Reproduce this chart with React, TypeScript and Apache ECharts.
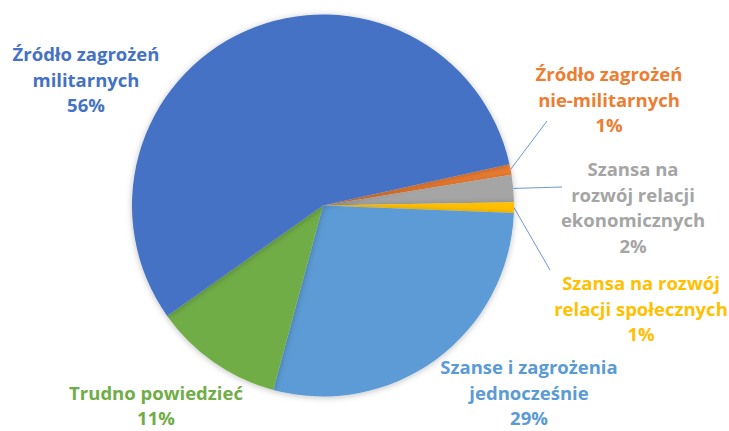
import React, { useEffect, useRef } from "react";
import * as echarts from "echarts";

const names = [
  "Źródło zagrożeń\nnie-militarnych",
  "Szansa na\nrozwój relacji\nekonomicznych",
  "Szansa na rozwój\nrelacji społecznych",
  "Szanse i zagrożenia\njednocześnie",
  "Trudno powiedzieć",
  "Źródło zagrożeń\nmilitarnych",
];
const values = [0.9, 2.3, 0.9, 28.6, 11.0, 56.4];
const colors = ["#ED7D31", "#A5A5A5", "#FFC000", "#5B9BD5", "#70AD47", "#4472C4"];
const showLine = [true, true, true, false, false, false];
// label centres (px) and label-line end points
const labelPos: [number, number][] = [
  [609, 99],
  [633, 207],
  [641, 308],
  [529, 392],
  [156, 405],
  [86, 79],
];
const lineEnds: [number, number][] = [
  [547, 121],
  [562, 187],
  [550, 270],
  [0, 0],
  [0, 0],
  [0, 0],
];

export default function App() {
  const ref = useRef<HTMLDivElement>(null);
  useEffect(() => {
    document.body.style.margin = "0";
    const chart = echarts.init(ref.current!, null, { renderer: "svg" });
    chart.setOption({
      animation: false,
      backgroundColor: "#ffffff",
      series: [
        {
          type: "pie",
          center: [323, 205.5],
          radius: 191,
          startAngle: 12.5,
          clockwise: true,
          avoidLabelOverlap: false,
          itemStyle: {
            shadowBlur: 6,
            shadowColor: "rgba(0,0,0,0.25)",
            shadowOffsetY: 1,
          },
          label: {
            show: true,
            position: "outside",
            fontFamily: "Open Sans",
            fontWeight: "bold",
            fontSize: 18.5,
            lineHeight: 25.5,
            align: "center",
            formatter: (p: any) => p.name + "\n" + Math.round(p.percent) + "%",
          },
          labelLine: {
            show: true,
            length: 10,
            length2: 10,
            lineStyle: { color: "#6F96D6", width: 1 },
          },
          labelLayout: (p: any) => {
            const i = p.dataIndex;
            const res: any = {
              x: labelPos[i][0],
              y: labelPos[i][1],
              align: "center",
              verticalAlign: "middle",
            };
            if (showLine[i] && p.labelLinePoints) {
              const s = p.labelLinePoints[0];
              res.labelLinePoints = [s, lineEnds[i], lineEnds[i]];
            }
            return res;
          },
          data: values.map((v, i) => ({
            name: names[i],
            value: v,
            itemStyle: { color: colors[i] },
            label: { color: colors[i] },
            labelLine: { show: showLine[i] },
          })),
        },
      ],
    });
    return () => chart.dispose();
  }, []);
  return <div ref={ref} style={{ width: 729, height: 431 }} />;
}
